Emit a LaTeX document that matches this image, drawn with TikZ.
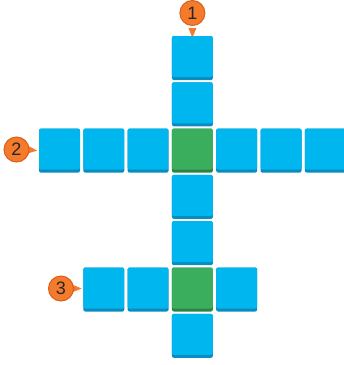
\documentclass[tikz,border=0pt]{standalone}
\usepackage{fontspec}
\setmainfont{Liberation Sans}
\usetikzlibrary{backgrounds}
\definecolor{cellblue}{HTML}{00B6EE}
\definecolor{cellbluedk}{HTML}{0A8CC0}
\definecolor{cellgreen}{HTML}{3BAE5E}
\definecolor{cellgreendk}{HTML}{2A8444}
\definecolor{mkorange}{HTML}{F47A2C}
\definecolor{mkorangedk}{HTML}{D8601C}
\tikzset{
  cellbase/.style={rectangle, rounded corners=2pt, minimum width=41pt, minimum height=44pt, inner sep=0pt},
  bluecell/.style={cellbase, fill=cellbluedk, path picture={\fill[cellblue] (path picture bounding box.north west) rectangle ([yshift=3pt]path picture bounding box.south east);}},
  greencell/.style={cellbase, fill=cellgreendk, path picture={\fill[cellgreen] (path picture bounding box.north west) rectangle ([yshift=3pt]path picture bounding box.south east);}},
  marker/.style={circle, fill=mkorange, draw=mkorangedk, line width=1pt, minimum size=25pt, inner sep=0pt, font=\fontsize{18}{18}\selectfont, text=black!85},
  pointer/.style={fill=mkorange}
}
\begin{document}
\begin{tikzpicture}[x=1pt,y=-1pt]
\useasboundingbox (0,0) rectangle (344,365);
% vertical column
\node[bluecell] (v1) at (192.4,58) {};
\node[bluecell] (v2) at (192.4,104.3) {};
\node[greencell] (c1) at (192.4,150.6) {};
\node[bluecell] (v4) at (192.4,196.9) {};
\node[bluecell] (v5) at (192.4,243.2) {};
\node[greencell] (c2) at (192.4,289.5) {};
\node[bluecell] (v7) at (192.4,335.8) {};
% row 2
\node[bluecell] (h1) at (59.5,150.6) {};
\node[bluecell] (h2) at (103.8,150.6) {};
\node[bluecell] (h3) at (148.1,150.6) {};
\node[bluecell] (h5) at (236.7,150.6) {};
\node[bluecell] (h6) at (281.0,150.6) {};
\node[bluecell] (h7) at (325.3,150.6) {};
% row 3
\node[bluecell] (r1) at (103.8,289.5) {};
\node[bluecell] (r2) at (148.1,289.5) {};
\node[bluecell] (r4) at (236.7,289.5) {};
% markers
\node[marker] (m1) at (192.4,13) {1};
\node[marker] (m2) at (16.5,149.5) {2};
\node[marker] (m3) at (61,288.5) {3};
\coordinate (t1) at ([yshift=-2pt]v1.north);
\coordinate (t2) at ([xshift=-1.5pt]h1.west);
\coordinate (t3) at ([xshift=-1.5pt]r1.west |- m3);
\begin{pgfonlayer}{background}
\fill[pointer] ([xshift=-4pt,yshift=-2pt]m1.south) -- (t1) -- ([xshift=4pt,yshift=-2pt]m1.south) -- cycle;
\fill[pointer] ([yshift=-4pt,xshift=-2pt]m2.east) -- (t2) -- ([yshift=4pt,xshift=-2pt]m2.east) -- cycle;
\fill[pointer] ([yshift=-4pt,xshift=-2pt]m3.east) -- (t3) -- ([yshift=4pt,xshift=-2pt]m3.east) -- cycle;
\end{pgfonlayer}
\end{tikzpicture}
\end{document}
